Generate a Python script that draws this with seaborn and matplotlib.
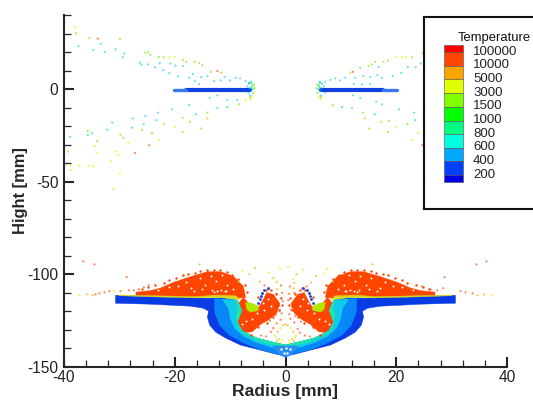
#importing libraries
import matplotlib
matplotlib.use("Agg")
import matplotlib.pyplot as plt
import pandas as pd
import seaborn as sns
from matplotlib.patches import Rectangle
from matplotlib.ticker import MultipleLocator

#legend levels
legend_labels = ["100000", "10000", "5000", "3000", "1500", "1000", "800", "600", "400", "200"]
legend_colors = ["#ff0000", "#ff4500", "#ffa500", "#e0ff00", "#7fff00", "#00ff00",
                 "#00ff80", "#00ffe0", "#00a8ff", "#0040ff", "#0000e0"]
palette = {100000: "#ff0000", 10000: "#ff4500", 5000: "#ffa500", 3000: "#e0f000", 1500: "#7fe800",
           1000: "#20e020", 800: "#00e890", 600: "#20d0e0", 400: "#00a0f0", 200: "#0040e8"}

#droplets above the surface, left side (radius, height, temperature)
left_x = [-38.0, -37.8, -37.4, -35.4, -33.9, -33.4, -34.7, -32.6, -29.9, -30.7, -29.1, -29.4, -25.3, -24.8, -24.4,
          -26.3, -26.0, -24.8, -23.6, -22.9, -22.0, -21.1, -20.0, -22.7, -20.8, -19.9, -18.5, -17.9, -16.4, -15.6,
          -15.0, -22.1, -21.0, -19.4, -18.5, -17.4, -16.7, -16.4, -15.2, -15.6, -14.1, -13.5, -12.3, -11.6, -12.9,
          -11.7, -11.0, -10.0, -9.0, -8.2, -7.2, -6.6,
          -13.7, -12.3, -10.5, -8.7, -7.2, -6.3, -8.4, -10.5, -12.3, -14.1, -14.1, -16.2, -17.4, -18.6, -17.3, -15.2,
          -18.6, -20.0, -20.5, -22.0, -23.0, -23.3, -25.3, -27.6, -27.7, -25.6, -25.9, -24.1, -22.9, -24.6, -27.2,
          -28.4, -29.8, -29.3, -31.3, -32.2, -35.7, -34.9, -35.7, -38.9, -34.0, -34.5, -34.1, -30.7, -30.2, -31.5,
          -29.9, -31.1, -39.3, -38.8, -38.8, -37.2, -35.6, -34.7]
left_y = [33.5, 30.1, 23.1, 27.6, 27.2, 24.5, 21.1, 20.1, 27.0, 21.5, 19.2, 17.2, 19.7, 19.9, 18.4,
          14.3, 13.3, 13.3, 11.7, 17.2, 17.2, 17.2, 17.4, 14.0, 13.8, 12.7, 15.6, 14.7, 14.7, 14.0,
          12.9, 10.2, 8.6, 6.8, 12.4, 6.1, 8.2, 4.3, 6.5, 2.8, 7.0, 9.3, 9.7, 8.8, 4.3,
          4.7, 6.5, 4.7, 6.1, 5.8, 4.3, 3.4,
          -4.7, -3.4, -5.9, -5.9, -6.1, -5.5, -8.2, -9.7, -10.1, -12.7, -15.8, -13.6, -8.6, -15.4, -17.6, -21.3,
          -23.1, -20.4, -10.9, -18.7, -12.7, -16.8, -14.5, -15.8, -20.8, -19.0, -22.0, -23.8, -27.6, -30.3, -34.4,
          -28.9, -24.7, -26.3, -18.1, -21.9, -22.6, -23.8, -24.7, -25.8, -28.1, -30.8, -34.2, -33.7, -35.6, -39.1,
          -45.5, -53.9, -33.7, -41.0, -43.7, -41.2, -41.4, -41.8]
left_t = [3000, 1500, 600, 1500, 10000, 800, 600, 600, 5000, 600, 800, 600, 1500, 1500, 1500,
          600, 600, 600, 600, 1500, 1500, 3000, 3000, 600, 800, 600, 1500, 1500, 1500, 1500,
          1500, 600, 600, 600, 600, 600, 600, 600, 600, 600, 600, 1500, 10000, 5000, 600,
          600, 600, 600, 600, 600, 600, 600,
          600, 600, 600, 600, 3000, 3000, 1500, 800, 600, 1500, 5000, 800, 600, 1500, 1500, 5000,
          5000, 3000, 600, 1500, 600, 600, 600, 600, 800, 800, 1500, 1500, 3000, 10000, 10000,
          3000, 1500, 1500, 800, 800, 1500, 800, 800, 600, 1500, 3000, 3000, 3000, 3000, 3000,
          3000, 3000, 1500, 3000, 3000, 3000, 3000, 3000]

#droplets above the surface, right side
right_x = [24.7, 24.4, 22.9, 21.8, 21.1, 19.9, 23.5, 22.1, 20.9, 19.4, 18.5, 17.7, 16.2, 15.6, 15.0, 16.8, 17.4,
           16.6, 15.3, 14.1, 13.5, 12.2, 11.7, 12.6, 10.8, 9.9, 9.0, 8.1, 7.2, 15.3, 13.8, 12.3,
           6.3, 8.5, 10.2, 12.0, 13.5, 12.2, 14.0, 14.3, 16.1, 16.4, 17.4, 18.7, 17.3, 15.1, 18.5, 20.0, 20.5, 22.0,
           23.2, 23.4, 24.0, 22.9, 24.7]
right_y = [19.5, 13.8, 17.2, 17.2, 17.2, 17.4, 11.8, 12.0, 8.8, 7.0, 15.4, 14.7, 14.7, 13.3, 12.4, 12.0, 6.1,
           7.5, 6.5, 7.0, 11.5, 9.3, 9.0, 6.1, 6.1, 4.7, 5.8, 5.0, 3.9, 2.8, 2.5, 2.8,
           -5.5, -8.6, -9.7, -10.4, -4.7, -3.4, -12.7, -15.8, -13.6, -6.8, -8.2, -17.2, -17.6, -21.3, -23.1, -20.4,
           -10.9, -18.7, -12.7, -16.8, -23.7, -27.6, -30.3]
right_t = [1500, 600, 1500, 3000, 3000, 3000, 600, 600, 600, 600, 1500, 1500, 1500, 1500, 1500, 600, 600,
           600, 600, 600, 1500, 10000, 5000, 600, 600, 600, 600, 600, 600, 600, 600, 600,
           3000, 1500, 800, 600, 600, 600, 1500, 5000, 800, 600, 600, 1500, 1500, 5000, 5000, 3000, 600, 1500,
           600, 600, 3000, 3000, 10000]

#droplets at the nozzle tips
tip_x = [-6.9, -6.6, -6.4, -6.2, -6.0, -5.8, -5.6, -6.5, -6.3, -6.1, -5.9, -5.7, -6.4, -6.0, -6.7, -6.2,
         5.6, 5.8, 6.0, 6.2, 6.4, 6.6, 6.9, 5.7, 5.9, 6.1, 6.3, 6.5, 6.0, 6.4, 7.2, 6.2]
tip_y = [1.5, 3.0, -3.5, 4.0, 2.0, -2.0, 0.5, 0.5, -1.0, 1.0, 0.0, 2.5, -4.5, -4.0, -2.0, 3.4,
         0.5, -2.0, 2.0, 4.0, -3.5, 3.0, 1.5, 2.5, 0.0, 1.0, -1.0, 0.5, -4.0, -4.5, -2.0, 3.4]
tip_t = [600, 400, 600, 800, 1000, 1500, 1500, 400, 400, 800, 800, 1500, 1500, 3000, 600, 800,
         1500, 1500, 1000, 800, 600, 400, 600, 1500, 800, 800, 400, 400, 3000, 1500, 600, 800]

#spatter around the crater: far tail, top and the centre
spray_x = [-36.5, -34.5, -28.7, -15.5, -37.2, -35.9, -34.8, -34.3, -33.6, -32.7, -31.8, -30.9, -29.8, -28.3, -27.4,
           -26.5, -25.6, -24.7, 36.3, 34.5, 28.7, 15.7, 37.2, 35.8, 34.7, 33.8, 32.5, 31.6, 24.7, 28.5, 26.2, 27.4,
           -6.5, -5.5, -3.0, -1.0, 0.5, 2.0, 3.2, 5.5, 7.0, -2.2, 1.4, -8.5, 8.6, -7.8, 7.5,
           -4.6, -3.8, -3.0, -1.6, -0.8, -1.5, -0.6, -1.6, -3.2, -2.4, -0.5, -1.2, -3.6, -2.8, -1.8, -0.7, -2.8,
           -1.6, -0.9, -2.2, -1.0, -4.4, -3.5, -2.6,
           4.6, 3.8, 3.0, 1.6, 0.8, 1.5, 0.6, 1.6, 3.2, 2.4, 0.5, 1.2, 3.6, 2.8, 1.8, 0.7, 2.8, 1.6, 0.9, 2.2, 1.0,
           4.4, 3.5, 2.6,
           -1.9, -1.4, -0.9, -0.4, -1.7, -1.2, -0.6, -1.5, -0.7, 1.9, 1.4, 0.9, 0.4, 1.7, 1.2, 0.6, 1.5, 0.7, 0.0]
spray_y = [-93.0, -94.6, -101.5, -94.6, -111.3, -110.8, -111.3, -110.8, -110.2, -109.7, -109.1, -109.1, -109.1,
           -108.6, -108.6, -108.1, -107.0, -105.9, -93.0, -94.6, -101.5, -94.6, -111.3, -110.8, -111.3, -110.2,
           -109.7, -109.1, -106.5, -107.5, -108.1, -108.6,
           -100.0, -96.5, -99.0, -97.0, -96.0, -100.0, -97.5, -101.0, -99.5, -102.0, -102.5, -104.0, -104.0, -98.0,
           -97.0,
           -104.0, -106.0, -108.0, -104.0, -106.0, -108.0, -110.0, -110.5, -111.0, -114.0, -114.5, -117.0, -119.0,
           -120.0, -122.0, -121.0, -125.0, -126.5, -124.5, -129.0, -119.5, -133.0, -133.5, -131.0,
           -104.5, -106.5, -107.5, -104.5, -106.5, -107.5, -110.5, -110.0, -111.5, -114.5, -114.0, -117.5, -119.5,
           -120.5, -122.5, -121.5, -125.5, -126.0, -124.0, -129.5, -119.0, -133.5, -133.0, -131.5,
           -133.0, -131.0, -129.0, -127.5, -134.0, -135.0, -135.5, -136.0, -137.0, -133.0, -131.0, -129.0, -127.5,
           -134.0, -135.0, -135.5, -136.0, -137.0, -127.0]
spray_t = [10000, 10000, 10000, 1500, 3000, 5000, 5000, 10000, 10000, 10000, 10000, 3000, 10000, 10000, 10000,
           10000, 10000, 10000, 10000, 10000, 10000, 1500, 3000, 5000, 5000, 10000, 10000, 10000, 10000, 10000,
           10000, 10000,
           1500, 1500, 3000, 3000, 3000, 1500, 3000, 1500, 3000, 1500, 3000, 1500, 1500, 3000, 3000,
           5000, 10000, 10000, 5000, 10000, 5000, 10000, 10000, 10000, 10000, 10000, 10000, 10000, 10000, 10000,
           10000, 10000, 10000, 10000, 10000, 10000, 10000, 10000, 10000,
           5000, 10000, 10000, 5000, 10000, 5000, 10000, 10000, 10000, 10000, 10000, 10000, 10000, 10000, 10000,
           10000, 10000, 10000, 10000, 10000, 10000, 10000, 10000, 10000,
           3000, 5000, 3000, 5000, 3000, 5000, 3000, 1500, 3000, 3000, 5000, 3000, 5000, 3000, 5000, 3000, 1500,
           3000, 5000]

#blue film on the nozzle
stem_dark_x = [-18.0, -6.5]
stem_pale_x = [-20.2, -18.0]
stem_y = [-0.6, -0.6]
stem_dark_right_x = [6.5, 17.6]
stem_pale_right_x = [17.6, 20.2]

#dense regions outlined in the left half (radius, height); the right half mirrors them
band_x = [-30.7, -24.4, -17.1, -13.9, -11.4, -8.7, -7.9, -8.7, -7.8, -5.2, -2.3, 0, 0, -1.8, -4.5, -8.1, -10.8,
          -12.6, -13.7, -14.1, -13.9, -14.8, -17.1, -24.4, -30.7]
band_y = [-111.3, -111.8, -112.4, -112.9, -112.4, -114, -119.4, -125.8, -130.6, -134.4, -136.6, -138.2, -144.1,
          -143, -140.9, -138.2, -134.4, -131.2, -127.4, -123.1, -119.9, -118.3, -117.2, -116.1, -115.6]
mid_x = [-12.8, -8.7, -7.9, -8.7, -7.8, -5.2, -2.3, 0, 0, -2.3, -4.9, -7.6, -10.2, -11.9, -12.8]
mid_y = [-112.9, -114, -119.4, -125.8, -130.6, -134.4, -136.6, -138.2, -143.5, -142.4, -140.2, -137.0, -132.7,
         -127.4, -120.4]
cyan_x = [-11.4, -8.7, -7.9, -8.7, -7.8, -5.2, -2.3, 0, 0, -2.7, -5.4, -7.6, -9.2, -10.0, -10.3]
cyan_y = [-113.4, -114, -119.4, -125.8, -130.6, -134.4, -136.6, -138.2, -140.4, -139.2, -136.6, -133.3, -129.0,
          -123.7, -118.3]
green_x = [-9.0, -8.7, -7.9, -8.7, -7.8, -5.2, -2.3, 0, 0, -2.7, -5.2, -7.6, -8.6, -8.9, -8.5]
green_y = [-113.4, -114, -119.4, -125.8, -130.6, -134.4, -136.6, -138.2, -138.6, -137.6, -135.4, -131.6, -128.0,
           -122.6, -117.8]
film_x = [-30.0, -24.4, -16.2, -12.5, -9.0, -8.0, -8.8, -11.5, -16.2, -24.4, -30.0]
film_y = [-111.1, -111.5, -112.0, -111.2, -111.6, -114.0, -113.5, -112.6, -112.7, -112.1, -111.5]
upper_x = [-27.0, -24.4, -22.6, -20.2, -17.1, -14.1, -11.7, -9.4, -7.6, -7.2, -8.8, -11.4, -13.9, -16.2, -19.9, -24.4,
           -27.0]
upper_y = [-109.6, -108.8, -107.4, -104.3, -101.2, -98.6, -98.6, -101.0, -106.5, -112.6, -112.8, -112.0, -112.0,
           -112.4, -112.2, -112.0, -111.6]
lower_x = [-7.6, -6.5, -6, -4.9, -4, -3.4, -2.2, -1.0, -1.6, -3.0, -4.5, -6.0, -7.6, -8.7, -9.2, -8.9]
lower_y = [-112.5, -116.1, -119.4, -118.0, -113.5, -109.8, -110.8, -115.8, -121.0, -124.5, -127.0, -131.0, -131.5,
           -129.0, -123.7, -117.0]
arm_x = [-7.2, -6, -4.9, -4.9, -6.3, -7.0]
arm_y = [-115.1, -115.6, -117.2, -119.4, -120.4, -118.8]
tip_base_x = [-2.3, 2.3, 1.1, 0, -1.1]
tip_base_y = [-138.5, -138.5, -143.5, -145.0, -143.5]

#loose red droplets roughening the edges of the clouds, left half
rim_x = [-26.0, -24.8, -23.5, -22.0, -21.0, -19.8, -18.6, -17.6, -16.4, -15.4, -14.2, -13.0, -11.8, -10.6, -9.6, -8.6,
         -7.4, -6.9, -5.0, -4.2, -3.5, -2.6, -1.8, -0.9, -0.6, -1.2, -2.2, -3.4, -5.0, -6.2]
rim_y = [-108.0, -106.8, -106.0, -104.5, -103.0, -102.2, -100.6, -100.0, -99.0, -98.0, -97.6, -97.6, -97.8, -98.8,
         -100.6, -102.6, -105.5, -109.5, -112.0, -110.0, -108.6, -108.4, -110.4, -113.0, -116.5, -119.5, -123.0,
         -126.0, -128.5, -132.5]

#small gaps in the red clouds and the arm of cold droplets, left half
hole_x = [-23.0, -21.0, -19.5, -18.0, -17.0, -15.5, -14.5, -13.5, -12.5, -11.5, -10.5, -15.0, -13.0, -11.0, -9.5,
          -16.5, -13.2, -12.4, -11.6, -10.8, -7.8, -7.2, -4.0, -3.2, -2.6, -5.2, -6.0, -3.8, -4.5]
hole_y = [-108.5, -107.0, -106.5, -104.0, -107.5, -102.0, -105.5, -101.0, -103.5, -100.5, -106.0, -108.0, -109.5,
          -109.0, -108.0, -109.0, -108.3, -108.8, -108.4, -108.9, -127.0, -125.0, -115.5, -113.5, -117.0, -121.0,
          -124.0, -119.0, -112.5]
cold_x = [-4.9, -4.6, -4.5, -4.2, -3.8, -3.2]
cold_y = [-115.6, -113.4, -111.8, -110.2, -108.6, -107.5]
pit_x = [-0.9, 0.9, -0.3, 0.3, 0.0]
pit_y = [-140.5, -140.5, -142.5, -142.5, -139.5]

#table of all droplets
df = pd.DataFrame({"radius": left_x + right_x + tip_x + spray_x,
                   "height": left_y + right_y + tip_y + spray_y,
                   "temp": left_t + right_t + tip_t + spray_t})

sns.set_style("ticks")
plt.rcParams["font.family"] = ["Liberation Sans", "DejaVu Sans"]
plt.rcParams["axes.unicode_minus"] = False

fig = plt.figure(figsize=(5.33, 4), dpi=100)
ax = fig.add_axes([64 / 533, 33 / 400, 443 / 533, 352 / 400])


def fill_both(xs, ys, color, z):
    ax.fill(xs, ys, color=color, lw=0.3, zorder=z)
    ax.fill([-v for v in xs], ys, color=color, lw=0.3, zorder=z)


#red clouds first, the crater wall goes over them
fill_both(upper_x, upper_y, "#ff4500", 2)
fill_both(lower_x, lower_y, "#ff4500", 2)
fill_both(arm_x, arm_y, "#b0e800", 2.1)
fill_both(band_x, band_y, "#0a3ce6", 3)
fill_both(mid_x, mid_y, "#0888f8", 3.1)
fill_both(cyan_x, cyan_y, "#10cce8", 3.2)
fill_both(green_x, green_y, "#20e8a0", 3.3)
fill_both(film_x, film_y, "#d8d820", 3.4)
ax.fill(tip_base_x, tip_base_y, color="#2a90f0", lw=0, zorder=3.5)

sns.lineplot(x=stem_dark_x, y=stem_y, color="#1040e0", lw=3, ax=ax, zorder=3)
sns.lineplot(x=stem_dark_right_x, y=stem_y, color="#1040e0", lw=3, ax=ax, zorder=3)
sns.lineplot(x=stem_pale_x, y=stem_y, color="#3878f0", lw=2.4, ax=ax, zorder=3)
sns.lineplot(x=stem_pale_right_x, y=stem_y, color="#3878f0", lw=2.4, ax=ax, zorder=3)

sns.scatterplot(data=df, x="radius", y="height", hue="temp", palette=palette, s=2.5, linewidth=0,
                alpha=0.65, legend=False, ax=ax, zorder=4)
for sign in [-1, 1]:
    sns.scatterplot(x=[sign * v for v in rim_x], y=rim_y, color="#ff4500", s=3, linewidth=0, ax=ax, zorder=4)
    sns.scatterplot(x=[sign * v for v in hole_x], y=hole_y, color="white", s=2, linewidth=0, ax=ax, zorder=5)
    sns.scatterplot(x=[sign * v for v in cold_x], y=cold_y, color="#1040d8", s=4, linewidth=0, ax=ax, zorder=5)
sns.scatterplot(x=pit_x, y=pit_y, color="white", s=3, linewidth=0, ax=ax, zorder=5)

#axes
ax.set_xlim(-40, 40)
ax.set_ylim(-150, 40)
ax.patch.set_alpha(0)
ax.xaxis.set_major_locator(MultipleLocator(20))
ax.xaxis.set_minor_locator(MultipleLocator(4))
ax.yaxis.set_major_locator(MultipleLocator(50))
ax.yaxis.set_minor_locator(MultipleLocator(10))
ax.tick_params(which="major", direction="in", length=7.5, width=1.5, labelsize=11.2, pad=4, labelcolor="#222222")
ax.tick_params(which="minor", direction="in", length=5, width=0.9)
ax.tick_params(axis="x", which="major", pad=2)
sns.despine(ax=ax)
ax.spines["left"].set_linewidth(1.5)
ax.spines["bottom"].set_linewidth(1.5)
ax.set_xlabel("Radius [mm]", fontsize=12.6, fontweight="bold", va="bottom")
ax.xaxis.set_label_coords(0.5, -0.0895)
ax.set_ylabel("Hight [mm]", fontsize=11.9, fontweight="bold")
ax.yaxis.set_label_coords(-0.081, 0.501)

#legend box, runs off the right edge
lax = fig.add_axes([424 / 533, 191 / 400, 120 / 533, 192 / 400], zorder=10)
lax.set_xlim(424, 544)
lax.set_ylim(209, 17)
lax.set_xticks([])
lax.set_yticks([])
lax.set_facecolor("white")
for side in lax.spines.values():
    side.set_linewidth(1.5)
    side.set_color("#111111")

edges = [45, 52.3, 65.7, 79.3, 93.3, 106.7, 120.7, 134.3, 147.7, 161, 175, 182]
for i, col in enumerate(legend_colors):
    lax.add_patch(Rectangle((443.5, edges[i]), 19.5, edges[i + 1] - edges[i], facecolor=col,
                            edgecolor="#505050", lw=0.4))
for i, lab in enumerate(legend_labels):
    lax.text(473, edges[i + 1] - 0.5, lab, fontsize=9.5, va="center", ha="left", color="#222222")
lax.text(458, 37.5, "Temperature", fontsize=9.4, va="center", ha="left", color="#111111")

plt.savefig("out.png", dpi=100)
